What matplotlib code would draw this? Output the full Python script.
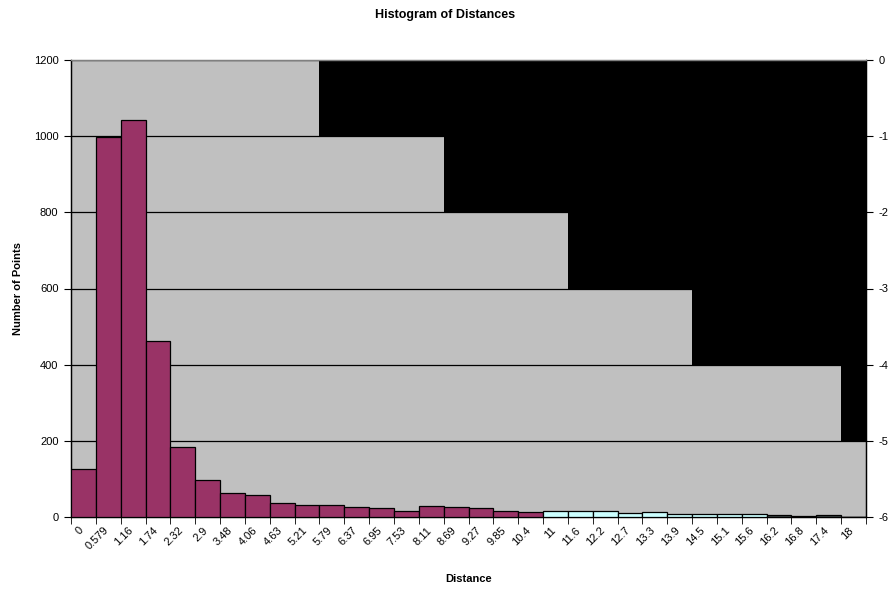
import matplotlib
matplotlib.use("Agg")
import matplotlib.pyplot as plt
import matplotlib.transforms as mtransforms
import numpy as np

plt.rcParams['font.family'] = ['Liberation Sans', 'DejaVu Sans']
plt.rcParams['axes.unicode_minus'] = False

# category labels (bin starts)
bins = ['0', '0.579', '1.16', '1.74', '2.32', '2.9', '3.48', '4.06', '4.63',
        '5.21', '5.79', '6.37', '6.95', '7.53', '8.11', '8.69', '9.27',
        '9.85', '10.4', '11', '11.6', '12.2', '12.7', '13.3', '13.9',
        '14.5', '15.1', '15.6', '16.2', '16.8', '17.4', '18']

# number of points per bin
counts = [125, 997, 1042, 462, 183, 98, 63, 57, 36, 32, 31, 26, 24, 15,
          28, 25, 24, 17, 14, 17, 17, 17, 10, 12, 7, 7, 7, 7, 5, 3, 5, 1]

# bar colour per bin
bar_colors = ['#993366'] * 19 + ['#CCFFFF'] * 9 + ['#3a4444', '#000000', '#3a4444', '#3a4444']

# background step series on secondary axis (top of each grey column)
step_top = [0] * 10 + [-1] * 5 + [-2] * 5 + [-3] * 5 + [-4] * 6 + [-5] * 1
sec_bottom = -6

x = np.arange(len(bins))

fig = plt.figure(figsize=(8.9, 5.89), dpi=100)
ax = fig.add_axes([71 / 890, 1 - 517 / 589, 795 / 890, 457 / 589])
ax2 = ax.twinx()

# secondary: grey columns on black plot area
ax2.patch.set_visible(True)
ax2.patch.set_facecolor('black')
ax2.bar(x, np.array(step_top) - sec_bottom, bottom=sec_bottom, width=1.0,
        color='#C0C0C0', linewidth=0)
ax2.set_ylim(-6, 0)
ax2.set_yticks(range(-6, 1))
ax2.tick_params(axis='y', labelsize=8, length=5, direction='out', pad=4)

# primary on top
ax.set_zorder(ax2.get_zorder() + 1)
ax.patch.set_visible(False)
ax.bar(x, counts, width=1.0, color=bar_colors, edgecolor='black', linewidth=0.9,
       zorder=3)
ax.set_ylim(0, 1200)
ax.set_yticks(range(0, 1201, 200))
ax.yaxis.grid(True, color='black', linewidth=0.9, zorder=1)
ax.set_axisbelow(True)
ax.set_xlim(-0.5, len(bins) - 0.5)
ax.set_xticks(x)
ax.set_xticklabels(bins, rotation=45, ha='right', va='top',
                   rotation_mode='anchor', fontsize=8)
ax.set_xticks(np.arange(-0.5, len(bins)), minor=True)
ax.tick_params(axis='x', which='major', length=0, pad=6)
ax.tick_params(axis='x', which='minor', length=5, direction='out')
ax.tick_params(axis='y', labelsize=8, length=5, direction='out', pad=4)

shift = mtransforms.ScaledTranslation(-5 / 100, 0, fig.dpi_scale_trans)
for lbl in ax.get_xticklabels():
    lbl.set_transform(lbl.get_transform() + shift)

for a in (ax, ax2):
    for s in a.spines.values():
        s.set_color('black')
        s.set_linewidth(0.9)
    a.spines['top'].set_color('#808080')

ax.set_ylabel('Number of Points', fontsize=8, fontweight='bold', labelpad=8)
ax.set_xlabel('Distance', fontsize=8, fontweight='bold', labelpad=16)
fig.suptitle('Histogram of Distances', fontsize=9, fontweight='bold', y=0.985)

fig.savefig('out.png', dpi=100)
